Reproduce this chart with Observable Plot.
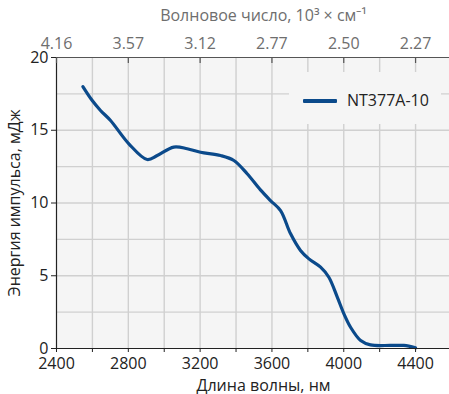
<!DOCTYPE html>
<html>
<head>
<meta charset="utf-8">
<script src="https://cdn.jsdelivr.net/npm/d3@7"></script>
<script src="https://cdn.jsdelivr.net/npm/@observablehq/plot@0.6"></script>
<style>
  html, body { margin: 0; padding: 0; background: #fff; overflow: hidden; }
  #wrap { position: relative; width: 449px; height: 394px; overflow: hidden; font-family: "Open Sans", sans-serif; }
  #wrap svg { max-width: none !important; }
  #legend { position: absolute; left: 289px; top: 72px; width: 152px; height: 52px; background: #f5f5f5; }
  #legend .sw { position: absolute; left: 14px; top: 27px; width: 34px; height: 3.5px; background: #0b4a8b; border-radius: 1px; }
  #legend .lb { position: absolute; left: 58px; top: 17px; font-size: 16px; line-height: 22px; color: #222; }
</style>
</head>
<body>
<div id="wrap"></div>
<script>
// Data
const wavelength = [2547, 2599, 2645, 2701, 2803, 2905, 2961, 3053, 3128, 3202, 3314, 3388, 3462, 3536, 3592, 3648, 3704, 3759, 3806, 3871, 3917, 3964, 4001, 4038, 4094, 4149, 4261, 4335, 4400];
const energy     = [18.0, 17.04, 16.36, 15.67, 14.07, 12.99, 13.26, 13.84, 13.73, 13.49, 13.26, 12.92, 12.01, 10.9, 10.17, 9.48, 7.88, 6.74, 6.16, 5.59, 4.9, 3.53, 2.38, 1.46, 0.55, 0.25, 0.21, 0.21, 0.05];
const seriesName = "NT377A-10";
const xMajorTicks = [2400, 2800, 3200, 3600, 4000, 4400];
const xGridTicks = [2400, 2600, 2800, 3000, 3200, 3400, 3600, 3800, 4000, 4200, 4400, 4600];
const yMajorTicks = [0, 5, 10, 15, 20];
const yGridTicks = [0, 2.5, 5, 7.5, 10, 12.5, 15, 17.5, 20];
const xTitle = "Длина волны, нм";
const yTitle = "Энергия импульса, мДж";
const topTitle = "Волновое число, 10³ × см⁻¹";

const data = wavelength.map((w, i) => ({w, e: energy[i]}));

const W = 470, H = 394, mt = 57, mb = 46, ml = 56;
const innerH = H - mt - mb;
const lineColor = "#0b4a8b";
const fs = 16;

const chart = Plot.plot({
  width: W, height: H,
  marginTop: mt, marginBottom: mb, marginLeft: ml, marginRight: 0,
  style: {fontFamily: "'Open Sans', sans-serif", fontSize: "16px", background: "transparent", overflow: "visible", maxWidth: "none"},
  x: {domain: [2400, 4706]},
  y: {domain: [0, 20]},
  marks: [
    Plot.frame({fill: "#f5f5f5", stroke: null}),
    Plot.gridX(xGridTicks.filter(d => d > 2400), {stroke: "#d0d0d0", strokeOpacity: 1, strokeWidth: 1.4}),
    Plot.gridY(yGridTicks.filter(d => d > 0 && d < 20), {stroke: "#d0d0d0", strokeOpacity: 1, strokeWidth: 1.4}),
    Plot.line(data, {x: "w", y: "e", curve: "catmull-rom", stroke: lineColor, strokeWidth: 3.2, strokeLinecap: "round"}),
    // frame lines
    Plot.ruleY([0], {stroke: "#222", strokeWidth: 1.2}),
    Plot.ruleY([20], {stroke: "#555", strokeWidth: 1.2}),
    Plot.ruleX([2400], {stroke: "#222", strokeWidth: 1.2}),
    // bottom axis
    Plot.axisX({anchor: "bottom", ticks: xGridTicks, tickSize: 4, tickPadding: 5, fontSize: fs,
      tickFormat: d => xMajorTicks.includes(d) ? String(d) : "",
      color: "#222", label: xTitle, labelAnchor: "center", labelOffset: 42, labelArrow: "none"}),
    // top axis (wavenumber = 10^4 / wavelength, truncated to 2 decimals)
    Plot.axisX({anchor: "top", ticks: xMajorTicks, tickSize: 0, tickPadding: 9, fontSize: fs,
      tickFormat: d => (Math.floor(1e6 / d) / 100).toFixed(2), color: "#6e6e6e",
      label: topTitle, labelAnchor: "center", labelOffset: 48, labelArrow: "none"}),
    Plot.ruleX(xMajorTicks, {x: d => d, stroke: "#555", strokeWidth: 1.2, insetBottom: innerH - 6}),
    // left axis
    Plot.axisY({anchor: "left", ticks: yMajorTicks, tickSize: 5, tickPadding: 3, color: "#222", fontSize: fs,
      label: yTitle, labelAnchor: "center", labelOffset: 48, labelArrow: "none"})
  ]
});

const wrap = document.getElementById("wrap");
wrap.appendChild(chart);
const legend = document.createElement("div");
legend.id = "legend";
legend.innerHTML = `<div class="sw"></div><div class="lb"></div>`;
legend.querySelector(".lb").textContent = seriesName;
wrap.appendChild(legend);
</script>
</body>
</html>
